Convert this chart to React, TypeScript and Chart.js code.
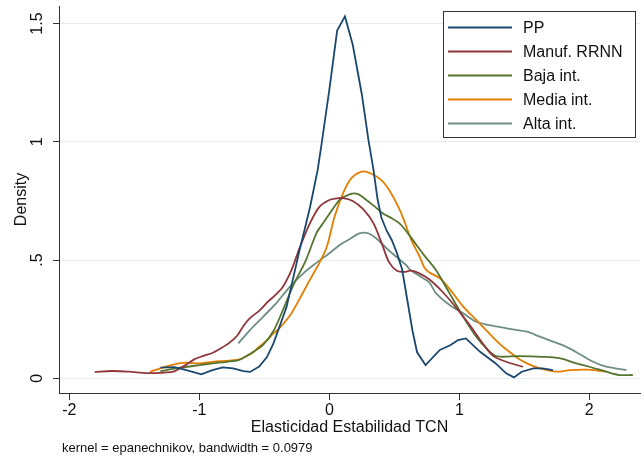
import React, { useEffect, useRef } from "react";
import { Chart, registerables } from "chart.js";

Chart.register(...registerables);

const seriesLabels = ["PP", "Manuf. RRNN", "Baja int.", "Media int.", "Alta int."];
const seriesColors = ["#1a476f", "#90353b", "#55752f", "#e37e00", "#6e8e84"];

const ppX = [-1.30, -1.19, -1.10, -0.985, -0.90, -0.82, -0.74, -0.66, -0.61, -0.54, -0.48, -0.43, -0.33, -0.23, -0.15, -0.09, -0.06, 0.0, 0.06, 0.12, 0.18, 0.25, 0.30, 0.34, 0.37, 0.40, 0.44, 0.48, 0.52, 0.56, 0.60, 0.64, 0.675, 0.74, 0.85, 0.93, 0.99, 1.05, 1.16, 1.28, 1.36, 1.42, 1.48, 1.57, 1.64, 1.72];
const ppY = [0.045, 0.047, 0.035, 0.017, 0.035, 0.046, 0.042, 0.030, 0.027, 0.050, 0.090, 0.148, 0.300, 0.540, 0.720, 0.880, 0.990, 1.220, 1.470, 1.530, 1.410, 1.200, 1.010, 0.880, 0.760, 0.680, 0.625, 0.585, 0.530, 0.460, 0.330, 0.200, 0.110, 0.056, 0.120, 0.140, 0.162, 0.169, 0.112, 0.063, 0.021, 0.004, 0.028, 0.042, 0.042, 0.035];

const manufX = [-1.805, -1.67, -1.54, -1.40, -1.25, -1.20, -1.15, -1.10, -1.04, -0.97, -0.90, -0.84, -0.77, -0.71, -0.65, -0.60, -0.54, -0.47, -0.42, -0.36, -0.29, -0.23, -0.15, -0.075, 0.0, 0.05, 0.105, 0.18, 0.26, 0.34, 0.41, 0.46, 0.52, 0.58, 0.62, 0.68, 0.77, 0.87, 0.98, 1.08, 1.18, 1.26, 1.36, 1.49];
const manufY = [0.027, 0.031, 0.028, 0.022, 0.025, 0.028, 0.042, 0.058, 0.080, 0.095, 0.107, 0.125, 0.150, 0.180, 0.230, 0.260, 0.285, 0.325, 0.350, 0.385, 0.460, 0.550, 0.655, 0.726, 0.754, 0.760, 0.762, 0.750, 0.715, 0.655, 0.560, 0.490, 0.455, 0.450, 0.455, 0.447, 0.418, 0.366, 0.296, 0.225, 0.148, 0.095, 0.070, 0.049];

const bajaX = [-1.30, -1.18, -1.0, -0.90, -0.79, -0.70, -0.59, -0.51, -0.43, -0.36, -0.28, -0.18, -0.10, -0.05, 0.0, 0.08, 0.16, 0.22, 0.285, 0.35, 0.41, 0.48, 0.54, 0.605, 0.67, 0.73, 0.82, 0.925, 1.03, 1.13, 1.22, 1.29, 1.46, 1.64, 1.77, 1.90, 2.0, 2.13, 2.23, 2.335];
const bajaY = [0.030, 0.042, 0.056, 0.063, 0.070, 0.077, 0.110, 0.141, 0.200, 0.285, 0.390, 0.500, 0.613, 0.655, 0.695, 0.754, 0.779, 0.779, 0.754, 0.726, 0.698, 0.677, 0.655, 0.613, 0.564, 0.520, 0.458, 0.359, 0.260, 0.176, 0.120, 0.093, 0.094, 0.091, 0.085, 0.063, 0.049, 0.028, 0.014, 0.014];

const mediaX = [-1.38, -1.30, -1.20, -1.10, -1.00, -0.90, -0.77, -0.69, -0.64, -0.59, -0.54, -0.485, -0.43, -0.395, -0.30, -0.23, -0.15, -0.075, -0.02, 0.04, 0.105, 0.17, 0.25, 0.32, 0.40, 0.46, 0.53, 0.58, 0.63, 0.695, 0.73, 0.77, 0.85, 0.925, 1.03, 1.13, 1.23, 1.33, 1.39, 1.45, 1.52, 1.62, 1.75, 1.85, 1.98, 2.08, 2.13];
const mediaY = [0.028, 0.042, 0.058, 0.066, 0.063, 0.070, 0.075, 0.080, 0.094, 0.108, 0.134, 0.158, 0.190, 0.206, 0.268, 0.335, 0.416, 0.490, 0.555, 0.683, 0.782, 0.846, 0.874, 0.866, 0.838, 0.796, 0.726, 0.660, 0.585, 0.514, 0.470, 0.447, 0.423, 0.378, 0.303, 0.247, 0.190, 0.136, 0.110, 0.085, 0.063, 0.042, 0.028, 0.035, 0.037, 0.032, 0.028];

const altaX = [-0.70, -0.61, -0.51, -0.41, -0.305, -0.20, -0.10, 0.0, 0.08, 0.156, 0.23, 0.30, 0.36, 0.44, 0.515, 0.59, 0.62, 0.70, 0.77, 0.82, 0.925, 1.03, 1.13, 1.23, 1.34, 1.41, 1.52, 1.62, 1.72, 1.82, 1.925, 2.03, 2.13, 2.285];
const altaY = [0.148, 0.204, 0.260, 0.317, 0.387, 0.444, 0.488, 0.529, 0.564, 0.588, 0.613, 0.613, 0.592, 0.550, 0.514, 0.479, 0.460, 0.430, 0.405, 0.360, 0.310, 0.275, 0.239, 0.225, 0.214, 0.207, 0.197, 0.176, 0.155, 0.134, 0.103, 0.070, 0.049, 0.035];

const seriesX = [ppX, manufX, bajaX, mediaX, altaX];
const seriesY = [ppY, manufY, bajaY, mediaY, altaY];

const xTicks = [-2, -1, 0, 1, 2];
const xTickLabels = ["-2", "-1", "0", "1", "2"];
const yTicks = [0, 0.5, 1, 1.5];
const yTickLabels = ["0", ".5", "1", "1.5"];
const xTitle = "Elasticidad Estabilidad TCN";
const yTitle = "Density";
const note = "kernel = epanechnikov, bandwidth = 0.0979";

const FONT = "Arial, 'Liberation Sans', sans-serif";

const textPlugin = {
  id: "stataText",
  afterDraw(chart: any) {
    const ctx = chart.ctx;
    const xs = chart.scales.x;
    const ys = chart.scales.y;
    const ca = chart.chartArea;
    ctx.save();
    ctx.fillStyle = "#111";
    ctx.font = "16px " + FONT;
    yTicks.forEach((v, i) => {
      const py = ys.getPixelForValue(v);
      ctx.save();
      ctx.translate(38, py);
      ctx.rotate(-Math.PI / 2);
      ctx.textAlign = "center";
      ctx.textBaseline = "middle";
      ctx.fillText(yTickLabels[i], 0, 0);
      ctx.restore();
    });
    ctx.save();
    ctx.translate(22, (ca.top + ca.bottom) / 2);
    ctx.rotate(-Math.PI / 2);
    ctx.textAlign = "center";
    ctx.textBaseline = "middle";
    ctx.fillText(yTitle, 0, 0);
    ctx.restore();
    ctx.textAlign = "center";
    ctx.textBaseline = "alphabetic";
    xTicks.forEach((v, i) => {
      ctx.fillText(xTickLabels[i], xs.getPixelForValue(v), 415);
    });
    ctx.fillText(xTitle, (ca.left + ca.right) / 2, 432);
    ctx.font = "13px " + FONT;
    ctx.textAlign = "left";
    ctx.fillText(note, 62, 452);

    const lx = 443, ly = 11, lw = 192, lh = 126;
    ctx.fillStyle = "#ffffff";
    ctx.fillRect(lx, ly, lw, lh);
    ctx.strokeStyle = "#333";
    ctx.lineWidth = 1;
    ctx.strokeRect(lx + 0.5, ly + 0.5, lw, lh);
    ctx.font = "16px " + FONT;
    ctx.textAlign = "left";
    ctx.textBaseline = "middle";
    chart.data.datasets.forEach((ds: any, i: number) => {
      const cy = 27.5 + 24 * i;
      ctx.strokeStyle = ds.borderColor;
      ctx.lineWidth = 2;
      ctx.beginPath();
      ctx.moveTo(448, cy);
      ctx.lineTo(512, cy);
      ctx.stroke();
      ctx.fillStyle = "#111";
      ctx.fillText(ds.label, 523, cy + 1);
    });
    ctx.restore();
  },
};

export default function App() {
  const ref = useRef<HTMLCanvasElement | null>(null);
  useEffect(() => {
    document.body.style.margin = "0";
    const canvas = ref.current;
    if (!canvas) return;
    const datasets = seriesLabels.map((label, i) => ({
      label,
      data: seriesX[i].map((x, j) => ({ x, y: seriesY[i][j] })),
      borderColor: seriesColors[i],
      backgroundColor: seriesColors[i],
      borderWidth: 1.8,
      pointRadius: 0,
      fill: false,
      tension: i === 0 ? 0 : 0.3,
    }));
    const chart = new Chart(canvas, {
      type: "line",
      data: { datasets },
      options: {
        animation: false,
        responsive: false,
        maintainAspectRatio: false,
        layout: { padding: { left: 53, right: 4, top: 6, bottom: 60 } },
        plugins: { legend: { display: false }, tooltip: { enabled: false } },
        scales: {
          x: {
            type: "linear",
            min: -2.08,
            max: 2.39,
            afterBuildTicks: (s: any) => {
              s.ticks = xTicks.map((v) => ({ value: v }));
            },
            ticks: { display: false },
            grid: { drawOnChartArea: false, drawTicks: true, tickLength: 7, tickColor: "#333", tickWidth: 1 },
            border: { display: true, color: "#333", width: 1 },
          },
          y: {
            type: "linear",
            min: -0.062,
            max: 1.574,
            afterBuildTicks: (s: any) => {
              s.ticks = yTicks.map((v) => ({ value: v }));
            },
            ticks: { display: false },
            grid: { color: "#e4ecef", lineWidth: 1, drawTicks: true, tickLength: 6, tickColor: "#333", tickWidth: 1 },
            border: { display: true, color: "#333", width: 1 },
          },
        },
      },
      plugins: [textPlugin],
    } as any);
    return () => chart.destroy();
  }, []);
  return (
    <div style={{ position: "absolute", left: 0, top: 0, width: 644, height: 460, background: "#fff" }}>
      <canvas ref={ref} width={644} height={460} style={{ width: 644, height: 460, display: "block" }} />
    </div>
  );
}
